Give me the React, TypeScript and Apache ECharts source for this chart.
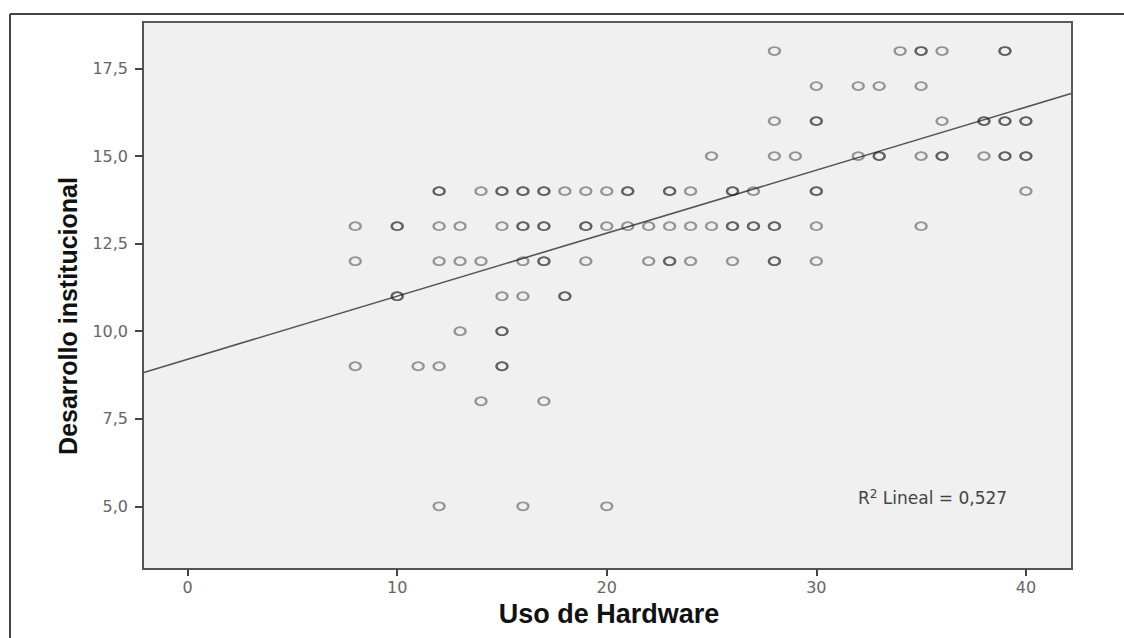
import React, { useEffect, useRef } from "react";
import * as echarts from "echarts";

const row18 = [28, 34, 35, 35, 36, 39, 39];
const row17 = [30, 32, 33, 35];
const row16 = [28, 30, 30, 36, 38, 38, 39, 39, 40, 40];
const row15 = [25, 28, 29, 32, 33, 33, 35, 36, 36, 38, 39, 39, 40, 40];
const row14 = [12, 12, 14, 15, 15, 16, 16, 17, 17, 18, 19, 20, 21, 21, 23, 23, 24, 26, 26, 27, 30, 30, 40];
const row13 = [8, 10, 10, 12, 13, 15, 16, 16, 17, 17, 19, 19, 20, 21, 22, 23, 24, 25, 26, 26, 27, 27, 28, 28, 30, 35];
const row12 = [8, 12, 13, 14, 16, 17, 17, 19, 22, 23, 23, 24, 26, 28, 28, 30];
const row11 = [10, 10, 15, 16, 18, 18];
const row10 = [13, 15, 15];
const row9 = [8, 11, 12, 15, 15];
const row8 = [14, 17];
const row5 = [12, 16, 20];

const rows: [number, number[]][] = [
  [18, row18], [17, row17], [16, row16], [15, row15], [14, row14], [13, row13],
  [12, row12], [11, row11], [10, row10], [9, row9], [8, row8], [5, row5],
];

const xTicks = [0, 10, 20, 30, 40];
const yTicks = [5, 7.5, 10, 12.5, 15, 17.5];

// Linear fit
const fitIntercept = 9.2;
const fitSlope = 0.18;
const r2Text = "0,527";

const xMin = -2.13;
const xMax = 42.2;
const yMin = 3.21;
const yMax = 18.83;

export default function App() {
  const ref = useRef<HTMLDivElement>(null);
  useEffect(() => {
    if (!ref.current) return;
    const chart = echarts.init(ref.current, undefined, { renderer: "svg" });
    const points: number[][] = [];
    rows.forEach(([y, xs]) => xs.forEach((x) => points.push([x, y])));
    const fitLine = [
      [xMin, fitIntercept + fitSlope * xMin],
      [xMax, fitIntercept + fitSlope * xMax],
    ];
    chart.setOption({
      animation: false,
      backgroundColor: "#ffffff",
      grid: {
        left: 143,
        top: 22,
        right: 52,
        bottom: 69,
        show: true,
        backgroundColor: "#f0f0f0",
        borderColor: "#5a5a5a",
        borderWidth: 2,
      },
      xAxis: {
        type: "value",
        min: xMin,
        max: xMax,
        axisLine: { show: true, onZero: false, lineStyle: { color: "#555555", width: 2 } },
        axisTick: {
          show: true,
          length: 7,
          customValues: xTicks,
          lineStyle: { color: "#444444", width: 2 },
        },
        axisLabel: {
          customValues: xTicks,
          formatter: (v: number) => String(v),
          color: "#666666",
          fontSize: 16,
          fontFamily: "DejaVu Sans",
          margin: 10,
        },
        splitLine: { show: false },
      },
      yAxis: {
        type: "value",
        min: yMin,
        max: yMax,
        axisLine: { show: true, onZero: false, lineStyle: { color: "#555555", width: 2 } },
        axisTick: {
          show: true,
          length: 8,
          customValues: yTicks,
          lineStyle: { color: "#444444", width: 2 },
        },
        axisLabel: {
          customValues: yTicks,
          formatter: (v: number) => v.toFixed(1).replace(".", ","),
          color: "#666666",
          fontSize: 16,
          fontFamily: "DejaVu Sans",
          margin: 15,
        },
        splitLine: { show: false },
      },
      series: [
        {
          type: "line",
          data: fitLine,
          showSymbol: false,
          symbol: "none",
          lineStyle: { color: "#555555", width: 1.6 },
          z: 1,
          silent: true,
        },
        {
          type: "scatter",
          data: points,
          symbol: "circle",
          symbolSize: [11, 8],
          itemStyle: {
            color: "rgba(0,0,0,0)",
            borderColor: "rgba(30,30,30,0.55)",
            borderWidth: 2,
          },
          z: 2,
        },
      ],
      graphic: [
        {
          type: "line",
          shape: { x1: 10, y1: 14, x2: 1124, y2: 14 },
          style: { stroke: "#444444", lineWidth: 2 },
        },
        {
          type: "line",
          shape: { x1: 10, y1: 14, x2: 10, y2: 638 },
          style: { stroke: "#444444", lineWidth: 2 },
        },
        {
          type: "text",
          x: 68,
          y: 316,
          rotation: Math.PI / 2,
          style: {
            text: "Desarrollo institucional",
            font: "bold 25px 'Liberation Sans', Arial, sans-serif",
            fill: "#111111",
            align: "center",
            verticalAlign: "middle",
          },
        },
        {
          type: "text",
          x: 609,
          y: 614,
          style: {
            text: "Uso de Hardware",
            font: "bold 27px 'Liberation Sans', Arial, sans-serif",
            fill: "#111111",
            align: "center",
            verticalAlign: "middle",
          },
        },
        {
          type: "text",
          x: 858,
          y: 498,
          style: {
            text: "R{sup|2} Lineal = " + r2Text,
            font: "17px 'DejaVu Sans', sans-serif",
            fill: "#444444",
            align: "left",
            verticalAlign: "middle",
            rich: {
              sup: {
                fontSize: 12,
                fontFamily: "DejaVu Sans",
                fill: "#444444",
                verticalAlign: "top",
                padding: [0, 0, 9, 0],
              },
            },
          },
        },
      ],
    });
    return () => chart.dispose();
  }, []);
  return (
    <div
      ref={ref}
      style={{ position: "fixed", left: 0, top: 0, width: 1124, height: 638 }}
    />
  );
}
